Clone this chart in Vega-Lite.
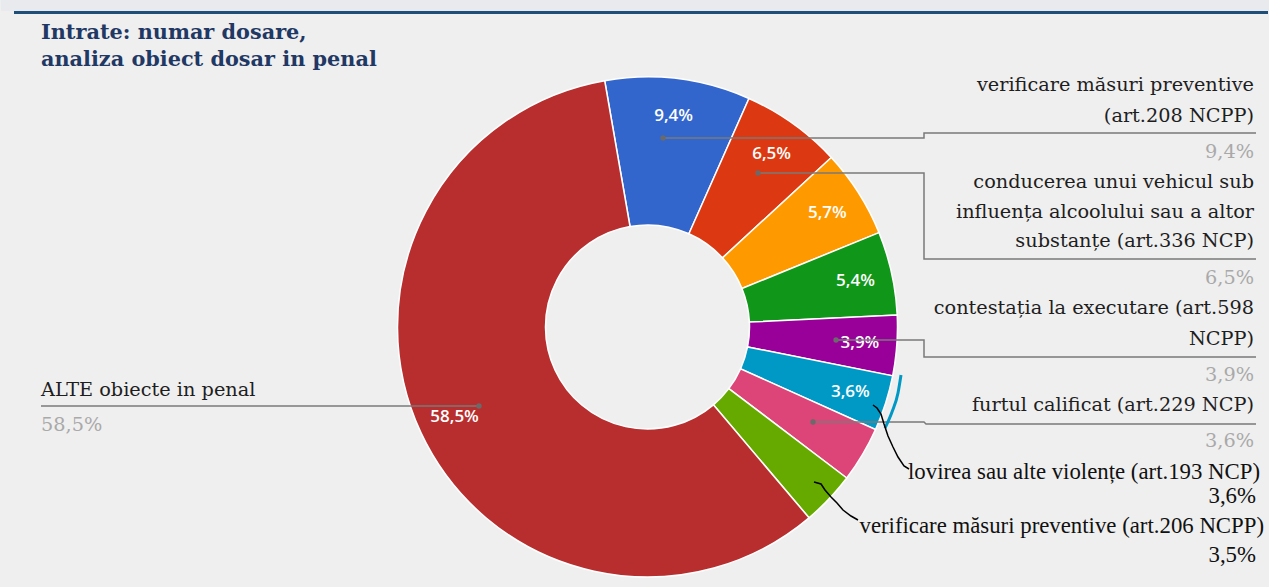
{
  "$schema": "https://vega.github.io/schema/vega-lite/v6.json",
  "width": 1245,
  "height": 520,
  "autosize": {"type": "pad"},
  "padding": 0,
  "background": "#efefef",
  "view": {"stroke": null},
  "config": {"axis": {"disable": true}},
  "datasets": {
    "slices": [
      {"cat": "verificare măsuri preventive (art.208 NCPP)", "value": 9.4, "k": 1, "lab": "9,4%"},
      {"cat": "conducerea unui vehicul sub influența alcoolului sau a altor substanțe (art.336 NCP)", "value": 6.5, "k": 2, "lab": "6,5%"},
      {"cat": "orange", "value": 5.7, "k": 3, "lab": "5,7%"},
      {"cat": "green", "value": 5.4, "k": 4, "lab": "5,4%"},
      {"cat": "contestația la executare (art.598 NCPP)", "value": 3.9, "k": 5, "lab": "3,9%"},
      {"cat": "lovirea sau alte violențe (art.193 NCP)", "value": 3.6, "k": 6, "lab": "3,6%"},
      {"cat": "furtul calificat (art.229 NCP)", "value": 3.6, "k": 7, "lab": ""},
      {"cat": "verificare măsuri preventive (art.206 NCPP)", "value": 3.5, "k": 8, "lab": ""},
      {"cat": "ALTE obiecte in penal", "value": 58.5, "k": 9, "lab": "58,5%"}
    ],
    "leaders": [
      {"g": 1, "i": 1, "x": 662, "y": 138}, {"g": 1, "i": 2, "x": 923, "y": 138}, {"g": 1, "i": 3, "x": 923, "y": 133}, {"g": 1, "i": 4, "x": 1255, "y": 133},
      {"g": 2, "i": 1, "x": 757, "y": 173}, {"g": 2, "i": 2, "x": 923, "y": 173}, {"g": 2, "i": 3, "x": 923, "y": 259}, {"g": 2, "i": 4, "x": 1255, "y": 259},
      {"g": 3, "i": 1, "x": 835, "y": 340}, {"g": 3, "i": 2, "x": 923, "y": 340}, {"g": 3, "i": 3, "x": 923, "y": 357}, {"g": 3, "i": 4, "x": 1255, "y": 357},
      {"g": 4, "i": 1, "x": 812, "y": 422}, {"g": 4, "i": 2, "x": 923, "y": 422}, {"g": 4, "i": 3, "x": 925, "y": 424}, {"g": 4, "i": 4, "x": 1255, "y": 424},
      {"g": 5, "i": 1, "x": 478, "y": 406}, {"g": 5, "i": 2, "x": 40, "y": 406}
    ],
    "dots": [
      {"x": 662, "y": 138}, {"x": 757, "y": 173}, {"x": 835, "y": 340}, {"x": 812, "y": 422}, {"x": 478, "y": 406}
    ],
    "hand": [
      {"g": 1, "i": 1, "x": 872, "y": 405}, {"g": 1, "i": 2, "x": 876, "y": 408}, {"g": 1, "i": 3, "x": 880, "y": 414}, {"g": 1, "i": 4, "x": 883, "y": 424}, {"g": 1, "i": 5, "x": 887, "y": 436}, {"g": 1, "i": 6, "x": 892, "y": 447}, {"g": 1, "i": 7, "x": 897, "y": 457}, {"g": 1, "i": 8, "x": 903, "y": 466}, {"g": 1, "i": 9, "x": 908, "y": 469},
      {"g": 2, "i": 1, "x": 813, "y": 482}, {"g": 2, "i": 2, "x": 820, "y": 484}, {"g": 2, "i": 3, "x": 824, "y": 490}, {"g": 2, "i": 4, "x": 830, "y": 497}, {"g": 2, "i": 5, "x": 836, "y": 503}, {"g": 2, "i": 6, "x": 842, "y": 510}, {"g": 2, "i": 7, "x": 850, "y": 516}, {"g": 2, "i": 8, "x": 857, "y": 520}
    ],
    "cyanmark": [
      {"i": 1, "x": 900, "y": 375}, {"i": 2, "x": 897, "y": 393}, {"i": 3, "x": 891, "y": 412}, {"i": 4, "x": 884, "y": 428}
    ],
    "rlabels": [
      {"t": "verificare măsuri preventive", "x": 1253, "y": 85},
      {"t": "(art.208 NCPP)", "x": 1253, "y": 116},
      {"t": "conducerea unui vehicul sub", "x": 1253, "y": 182},
      {"t": "influența alcoolului sau a altor", "x": 1253, "y": 212},
      {"t": "substanțe (art.336 NCP)", "x": 1253, "y": 241},
      {"t": "contestația la executare (art.598", "x": 1253, "y": 308},
      {"t": "NCPP)", "x": 1253, "y": 339},
      {"t": "furtul calificat (art.229 NCP)", "x": 1253, "y": 405}
    ],
    "rpct": [
      {"t": "9,4%", "x": 1253, "y": 152},
      {"t": "6,5%", "x": 1253, "y": 278},
      {"t": "3,9%", "x": 1253, "y": 375},
      {"t": "3,6%", "x": 1253, "y": 441}
    ],
    "handtext": [
      {"t": "lovirea sau alte violențe (art.193 NCP)", "x": 1259, "y": 472},
      {"t": "3,6%", "x": 1255, "y": 496},
      {"t": "verificare măsuri preventive (art.206 NCPP)", "x": 1263, "y": 526},
      {"t": "3,5%", "x": 1255, "y": 555}
    ],
    "title": [
      {"t": "Intrate: numar dosare,", "x": 40, "y": 39},
      {"t": "analiza obiect dosar in penal", "x": 40, "y": 66}
    ],
    "strip": [{"x": 0, "x2": 1269, "y": 0, "y2": 11}],
    "topline": [{"x": 13, "x2": 1267, "y": 12.5}]
  },
  "encoding": {},
  "layer": [
    {
      "data": {"name": "strip"},
      "mark": {"type": "rect", "color": "#e8eaee"},
      "encoding": {
        "x": {"field": "x", "type": "quantitative", "scale": {"domain": [24, 1269], "zero": false, "nice": false}},
        "x2": {"field": "x2"},
        "y": {"field": "y", "type": "quantitative", "scale": {"domain": [67, 587], "reverse": true, "zero": false, "nice": false}},
        "y2": {"field": "y2"}
      }
    },
    {
      "data": {"name": "topline"},
      "mark": {"type": "rule", "color": "#1f4e79", "strokeWidth": 3},
      "encoding": {
        "x": {"field": "x", "type": "quantitative"},
        "x2": {"field": "x2"},
        "y": {"field": "y", "type": "quantitative"}
      }
    },
    {
      "data": {"name": "title"},
      "mark": {"type": "text", "align": "left", "baseline": "alphabetic", "font": "DejaVu Serif", "fontWeight": "bold", "fontSize": 20.8, "color": "#1f3864"},
      "encoding": {
        "x": {"field": "x", "type": "quantitative"},
        "y": {"field": "y", "type": "quantitative"},
        "text": {"field": "t"}
      }
    },
    {
      "data": {"name": "slices"},
      "mark": {"type": "arc", "innerRadius": 102, "outerRadius": 250, "stroke": "#ffffff", "strokeWidth": 1.5},
      "encoding": {
        "theta": {"field": "value", "type": "quantitative", "stack": true, "scale": {"range": [-0.172, 6.111]}},
        "order": {"field": "k", "type": "quantitative"},
        "color": {
          "field": "k", "type": "nominal", "legend": null,
          "scale": {"domain": [1, 2, 3, 4, 5, 6, 7, 8, 9], "range": ["#3366cc", "#dc3912", "#ff9900", "#109618", "#990099", "#0099c6", "#dd4477", "#66aa00", "#b82e2e"]}
        }
      }
    },
    {
      "data": {"name": "slices"},
      "mark": {"type": "text", "radius": 213, "color": "#ffffff", "font": "Open Sans", "fontWeight": 600, "fontSize": 17, "baseline": "middle", "align": "center"},
      "encoding": {
        "theta": {"field": "value", "type": "quantitative", "stack": true},
        "order": {"field": "k", "type": "quantitative"},
        "text": {"field": "lab"}
      }
    },
    {
      "data": {"name": "leaders"},
      "mark": {"type": "line", "color": "#7a7a7a", "strokeWidth": 1.5},
      "encoding": {
        "x": {"field": "x", "type": "quantitative"},
        "y": {"field": "y", "type": "quantitative"},
        "detail": {"field": "g"},
        "order": {"field": "i"}
      }
    },
    {
      "data": {"name": "dots"},
      "mark": {"type": "circle", "color": "#6a6a6a", "size": 28, "opacity": 1},
      "encoding": {
        "x": {"field": "x", "type": "quantitative"},
        "y": {"field": "y", "type": "quantitative"}
      }
    },
    {
      "data": {"name": "cyanmark"},
      "mark": {"type": "line", "color": "#0099c6", "strokeWidth": 3, "interpolate": "monotone"},
      "encoding": {
        "x": {"field": "x", "type": "quantitative"},
        "y": {"field": "y", "type": "quantitative"},
        "order": {"field": "i"}
      }
    },
    {
      "data": {"name": "hand"},
      "mark": {"type": "line", "color": "#000000", "strokeWidth": 1.5},
      "encoding": {
        "x": {"field": "x", "type": "quantitative"},
        "y": {"field": "y", "type": "quantitative"},
        "detail": {"field": "g"},
        "order": {"field": "i"}
      }
    },
    {
      "data": {"name": "rlabels"},
      "mark": {"type": "text", "align": "right", "baseline": "middle", "font": "DejaVu Serif", "fontSize": 19.3, "color": "#1e1e1e"},
      "encoding": {
        "x": {"field": "x", "type": "quantitative"},
        "y": {"field": "y", "type": "quantitative"},
        "text": {"field": "t"}
      }
    },
    {
      "data": {"name": "rpct"},
      "mark": {"type": "text", "align": "right", "baseline": "middle", "font": "DejaVu Serif", "fontSize": 19.3, "color": "#a9a9a9"},
      "encoding": {
        "x": {"field": "x", "type": "quantitative"},
        "y": {"field": "y", "type": "quantitative"},
        "text": {"field": "t"}
      }
    },
    {
      "data": {"values": [{"t": "ALTE obiecte in penal", "x": 40, "y": 390}]},
      "mark": {"type": "text", "align": "left", "baseline": "middle", "font": "DejaVu Serif", "fontSize": 19.3, "color": "#1e1e1e"},
      "encoding": {
        "x": {"field": "x", "type": "quantitative"},
        "y": {"field": "y", "type": "quantitative"},
        "text": {"field": "t"}
      }
    },
    {
      "data": {"values": [{"t": "58,5%", "x": 40, "y": 425}]},
      "mark": {"type": "text", "align": "left", "baseline": "middle", "font": "DejaVu Serif", "fontSize": 19.3, "color": "#a9a9a9"},
      "encoding": {
        "x": {"field": "x", "type": "quantitative"},
        "y": {"field": "y", "type": "quantitative"},
        "text": {"field": "t"}
      }
    },
    {
      "data": {"name": "handtext"},
      "mark": {"type": "text", "align": "right", "baseline": "middle", "font": "Liberation Serif", "fontSize": 22.8, "color": "#111111"},
      "encoding": {
        "x": {"field": "x", "type": "quantitative"},
        "y": {"field": "y", "type": "quantitative"},
        "text": {"field": "t"}
      }
    }
  ]
}
